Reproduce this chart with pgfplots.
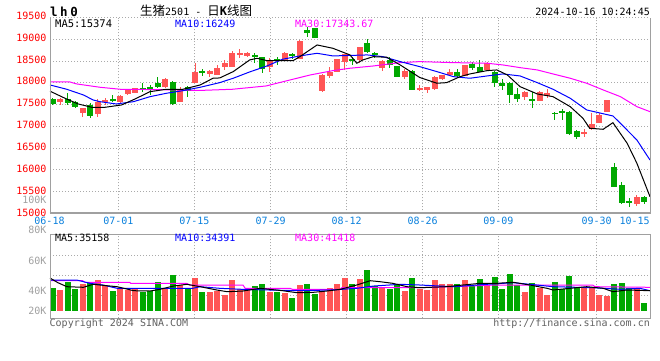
\documentclass[border=0pt]{standalone}
\usepackage{pgfplots}
\pgfplotsset{compat=1.18}
\usepackage{pgfplotstable}
\usepackage{fontspec}
\setmainfont{DejaVu Sans Mono}
\newfontfamily\cjk{Noto Sans CJK SC}
\definecolor{cRed}{HTML}{FF5555}
\definecolor{cGreen}{HTML}{00A800}
\definecolor{gridc}{HTML}{AAAAAA}
\definecolor{framec}{HTML}{A0A0A0}
\definecolor{tickblue}{HTML}{0A80DC}
\definecolor{volgray}{HTML}{A0A0A0}
\definecolor{copyc}{HTML}{606060}
\definecolor{maP}{HTML}{FF00FF}

% up (red) candles: index, open, high, low, close
\pgfplotstableread{
i O H L C
1 17566 17640 17490 17628
4 17299 17420 17207 17414
6 17276 17621 17221 17566
7 17566 17644 17490 17605
9 17550 17710 17520 17700
10 17743 17850 17720 17835
11 17773 17880 17760 17874
15 17897 18100 17880 18081
17 17566 17897 17560 17851
19 18003 18449 17990 18255
21 18202 18295 18134 18271
22 18180 18409 18170 18334
23 18371 18525 18295 18448
24 18371 18739 18360 18678
25 18640 18770 18563 18693
26 18624 18710 18600 18693
29 18371 18563 18256 18509
31 18509 18700 18500 18693
33 18540 18975 18535 18969
36 17820 18203 17797 18180
37 18157 18371 18103 18256
38 18256 18545 18250 18540
39 18486 18670 18295 18662
41 18525 18831 18448 18816
44 18333 18520 18279 18509
47 18141 18310 18088 18271
49 17850 17950 17819 17880
50 17835 17905 17758 17896
51 17850 18150 17840 18141
52 18080 18190 18070 18180
53 18180 18318 18170 18256
55 18157 18420 18150 18410
58 18295 18470 18280 18448
63 17682 17810 17605 17796
65 17590 17810 17580 17796
66 17697 17850 17643 17758
71 16830 16945 16761 16870
72 16931 17299 16920 17053
73 17083 17300 17070 17260
74 17336 17610 17320 17605
78 15214 15420 15175 15368
}\upc

% down (green) candles
\pgfplotstableread{
i O H L C
0 17628 17650 17490 17506
2 17628 17759 17500 17529
3 17566 17590 17428 17451
5 17490 17529 17184 17237
8 17621 17713 17566 17600
12 17874 17990 17796 17851
13 17897 17950 17720 17835
14 17989 18127 17870 17897
16 18026 18040 17500 17506
18 17897 17920 17667 17819
20 18270 18311 18157 18240
27 18640 18693 18448 18586
28 18586 18600 18218 18310
30 18540 18601 18410 18509
32 18655 18693 18540 18624
34 19214 19275 19046 19153
35 19260 19265 19025 19030
40 18540 18601 18410 18509
42 18908 19000 18690 18701
43 18678 18716 18563 18640
45 18525 18586 18333 18410
46 18387 18390 18130 18141
48 18279 18290 17830 17835
54 18256 18318 18103 18157
56 18425 18486 18295 18348
57 18371 18525 18240 18256
59 18256 18270 17896 17988
60 18003 18080 17835 17927
61 18003 18010 17528 17720
62 17743 17873 17567 17620
64 17628 17796 17413 17582
67 17310 17337 17145 17290
68 17345 17390 17145 17330
69 17336 17360 16810 16823
70 16899 16920 16701 16761
75 16071 16163 15600 15612
76 15651 15727 15220 15230
77 15280 15345 15152 15260
79 15368 15400 15220 15267
}\downc

\pgfplotstableread{
i V
1 40500
4 44700
6 47100
7 43100
9 41100
10 40500
11 42000
15 42000
17 43800
19 48700
21 39300
22 40000
23 37100
24 47100
25 41100
26 40500
29 39300
31 38700
33 43800
36 39800
37 42000
38 44700
39 48700
41 47800
44 42700
47 39800
49 40900
50 40500
51 47100
52 44500
53 44500
55 47100
58 43100
63 39100
65 42000
66 37100
71 42700
72 42700
73 37100
74 36500
78 41600
}\upv

\pgfplotstableread{
i V
0 42000
2 46000
3 41100
5 45300
8 39800
12 39300
13 39800
14 46000
16 50500
18 41100
20 39300
27 43100
28 44700
30 39300
32 35100
34 44700
35 37800
40 44700
42 53800
43 43100
45 41100
46 43800
48 48700
54 44500
56 43100
57 47800
59 49100
60 41100
61 51100
62 43800
64 45100
67 45800
68 41100
69 49800
70 42700
75 44500
76 45100
77 41600
79 32000
}\downv

\pgfplotsset{
  panel/.style={
    scale only axis, width=600pt, anchor=south west, clip=false,
    xmin=-0.36, xmax=79.75,
    axis line style={draw=none},
    major tick length=0pt,
    scaled ticks=false,
    xtick={8.76,18.91,29.10,39.25,49.39,59.49,72.63},
    xticklabels={}, yticklabels={},
    xmajorgrids, ymajorgrids,
    grid style={draw=gridc, line width=1pt, dash pattern=on 1pt off 2pt},
  },
  wick/.style={draw=none, mark=none, forget plot,
    error bars/.cd, y dir=both, y explicit, error mark=none,
    error bar style={draw=#1, line width=1pt}},
  body/.style={draw=none, mark=none, forget plot,
    error bars/.cd, y dir=both, y explicit, error mark=none,
    error bar style={draw=#1, line width=6pt}},
}

\begin{document}
\begin{tikzpicture}[every node/.style={font=\fontsize{10}{12}\selectfont, inner sep=0pt}]
\path[use as bounding box] (0pt,0pt) rectangle (660pt,360pt);

% ---------------- price panel ----------------
\begin{axis}[panel, at={(50pt,146.7pt)}, height=195.8pt,
  ymin=15000, ymax=19500, ytick={15000,15500,...,19500}]
\addplot[wick=cRed] table[x=i, y expr={(\thisrow{H}+\thisrow{L})/2}, y error expr={(\thisrow{H}-\thisrow{L})/2}] {\upc};
\addplot[body=cRed] table[x=i, y expr={(\thisrow{O}+\thisrow{C})/2}, y error expr={max(abs(\thisrow{C}-\thisrow{O})/2,12)}] {\upc};
\addplot[wick=cGreen] table[x=i, y expr={(\thisrow{H}+\thisrow{L})/2}, y error expr={(\thisrow{H}-\thisrow{L})/2}] {\downc};
\addplot[body=cGreen] table[x=i, y expr={(\thisrow{O}+\thisrow{C})/2}, y error expr={max(abs(\thisrow{C}-\thisrow{O})/2,12)}] {\downc};
% MA30
\addplot[maP, line width=1pt, mark=none] coordinates {
(-0.36,18018) (2.3,18018) (3.2,17973) (6.3,17897) (9,17851) (14.3,17842) (19.7,17824)
(24,17851) (28.5,17927) (31.7,18065) (34.4,18180) (37.4,18279) (39.7,18334) (42.8,18386)
(46.4,18463) (49,18486) (53.5,18463) (58,18449) (60.1,18410) (62.4,18348) (64.7,18295)
(66.8,18203) (69.1,18104) (71.3,17989) (73.5,17835) (75.8,17681) (78,17451) (79.75,17336)};
% MA10
\addplot[blue, line width=1pt, mark=none] coordinates {
(-0.36,17950) (1.87,17851) (4.1,17720) (5.4,17605) (6.3,17566) (8.5,17513) (10.8,17566)
(13,17681) (15.2,17759) (17.4,17819) (19.7,17897) (22.3,18003) (24.1,18104) (26.3,18249)
(28.6,18386) (30.7,18541) (33,18617) (35.3,18678) (37.4,18617) (39.7,18628) (42,18640)
(44.1,18600) (46.4,18486) (49,18371) (51.3,18256) (53.5,18141) (55.7,18104) (58,18157)
(60.1,18203) (62.4,18157) (64.7,18003) (66.8,17851) (69.1,17644) (71.3,17375) (74.8,17237)
(75.8,17069) (78,16685) (79.75,16225)};
% MA5
\addplot[black, line width=1pt, mark=none] coordinates {
(-0.36,17807) (1.64,17644) (3.4,17513) (5.2,17437) (7.0,17437) (9.2,17490) (11.0,17628)
(13,17796) (15.2,17851) (17.4,17851) (19.7,17950) (21.4,18104) (22.3,18111) (24.1,18256)
(26.3,18525) (27.3,18563) (28.6,18509) (32.1,18509) (33,18600) (35.3,18869) (37.4,18793)
(39.7,18639) (40.6,18449) (41.4,18524) (42.8,18600) (44.6,18587) (46.4,18409) (49,18122)
(51.3,17989) (52.6,18003) (54.4,18141) (55.7,18203) (58,18279) (59.3,18295) (60.7,18180)
(62.4,17911) (64.7,17743) (66.8,17681) (69.1,17451) (70.8,17184) (71.7,16954) (73.5,16931)
(74.8,17083) (76.7,16609) (78,16150) (79.75,15382)};
\end{axis}

% ---------------- volume panel ----------------
\begin{axis}[panel, at={(50pt,41.7pt)}, height=83.8pt,
  ymin=21600, ymax=77467, ytick={36933,50267,63600}]
\addplot[body=cRed] table[x=i, y expr={(\thisrow{V}+26670)/2}, y error expr={(\thisrow{V}-26670)/2}] {\upv};
\addplot[body=cGreen] table[x=i, y expr={(\thisrow{V}+26670)/2}, y error expr={(\thisrow{V}-26670)/2}] {\downv};
\addplot[maP, line width=1pt, mark=none] coordinates {
(-0.36,46670) (4.0,46670) (4.3,45600) (10.3,45600) (10.4,44900) (17.9,44900) (18.3,43800)
(25.4,43800) (25.7,41600) (31.7,41600) (32,40900) (38.4,40900) (38.6,42000) (49,42000)
(53,42670) (59.3,43800) (72.1,43800) (72.4,42670) (79.75,42270)};
\addplot[blue, line width=1pt, mark=none] coordinates {
(-0.36,47130) (3.2,47130) (5,44900) (6.7,43800) (8.6,41600) (18.7,41600) (19.7,42670)
(22.3,41600) (25.4,40900) (28.6,40500) (33,40000) (37.4,40500) (40.6,41600) (42.8,43100)
(46.4,44270) (49,43800) (53.5,42670) (58,44270) (61.5,45330) (63.7,44270) (66.8,42670)
(72.1,42000) (75.8,40930) (78.4,41600) (79.75,40000)};
\addplot[black, line width=1pt, mark=none] coordinates {
(-0.36,48470) (0.7,45330) (1.9,42670) (4.1,42270) (5.4,44270) (6.3,43800) (8.6,42670)
(9.9,41130) (10.8,40000) (13,39800) (14.3,40900) (16.1,43100) (17.9,44270) (19.7,42670)
(21.9,40470) (23.3,39330) (25.4,39800) (27.7,41600) (30.7,40000) (32.6,38670) (34.8,38930)
(36.6,39800) (38.4,40930) (40.6,43800) (42.4,46670) (43.7,46000) (45.4,44930) (47.3,42670)
(49,42000) (52.6,42670) (54.8,43800) (57.1,44930) (59.3,44930) (61.5,45600) (63.7,43800)
(66,41600) (66.8,40470) (69.1,41600) (71.3,42670) (73.5,41600) (74.8,39330) (76.7,40470)
(79.75,40000)};
\end{axis}

% ---------------- frames ----------------
\draw[framec, line width=1pt] (50pt,146.7pt) -- (50pt,342.5pt);
\draw[framec, line width=1pt] (650pt,146.7pt) -- (650pt,342.5pt);
\draw[framec, line width=2pt] (49.5pt,146.7pt) -- (650.5pt,146.7pt);
\draw[framec, line width=1pt] (50pt,41.7pt) rectangle (650pt,125.5pt);

% ---------------- price tick labels ----------------
\foreach \v/\yy in {19500/344,19000/322.5,18500/300.5,18000/278.8,17500/257,17000/235,16500/213.5,16000/191.3,15500/169.2,15000/147.5}
  \node[anchor=east, text=red] at (46.7pt,\yy pt) {\v};
% volume labels
\foreach \v/\yy in {100K/160,80K/130,60K/99.3,40K/69.3,20K/49.3}
  \node[anchor=east, text=volgray] at (46.7pt,\yy pt) {\v};
% date labels
\foreach \v/\xx in {06-18/49.5,07-01/118.3,07-15/194.3,07-29/270.7,08-12/346.7,08-26/422.7,09-09/498.3,09-30/596.7,10-15/634.7}
  \node[anchor=base, text=tickblue] at (\xx pt,136pt) {\v};

% ---------------- titles and legends ----------------
\node[anchor=base west, font=\bfseries\fontsize{12.5}{14}\selectfont] at (50pt,344pt) {l\kern2.5pt h\kern2.5pt 0};
\node[anchor=base west, font=\fontsize{10}{14}\selectfont] at (140pt,344.5pt) {{\cjk\fontsize{12.5}{14}\selectfont 生猪}2501 - {\cjk\fontsize{12.5}{14}\selectfont 日}{\bfseries\fontsize{12}{14}\selectfont K}{\cjk\fontsize{12.5}{14}\selectfont 线图}};
\node[anchor=base east] at (650pt,345pt) {2024-10-16 10:24:45};
\node[anchor=base west, font=\fontsize{10.5}{12}\selectfont] at (55pt,332.7pt) {MA5:15374};
\node[anchor=base west, text=blue] at (175pt,332.7pt) {MA10:16249};
\node[anchor=base west, text=maP] at (295pt,332.7pt) {MA30:17343.67};
\node[anchor=base west] at (55pt,118.3pt) {MA5:35158};
\node[anchor=base west, text=blue] at (175pt,118.3pt) {MA10:34391};
\node[anchor=base west, text=maP] at (295pt,118.3pt) {MA30:41418};
\node[anchor=base west, text=copyc] at (49.5pt,34pt) {Copyright 2024 SINA.COM};
\node[anchor=base east, text=copyc] at (650pt,34pt) {http://finance.sina.com.cn};
\end{tikzpicture}
\end{document}
